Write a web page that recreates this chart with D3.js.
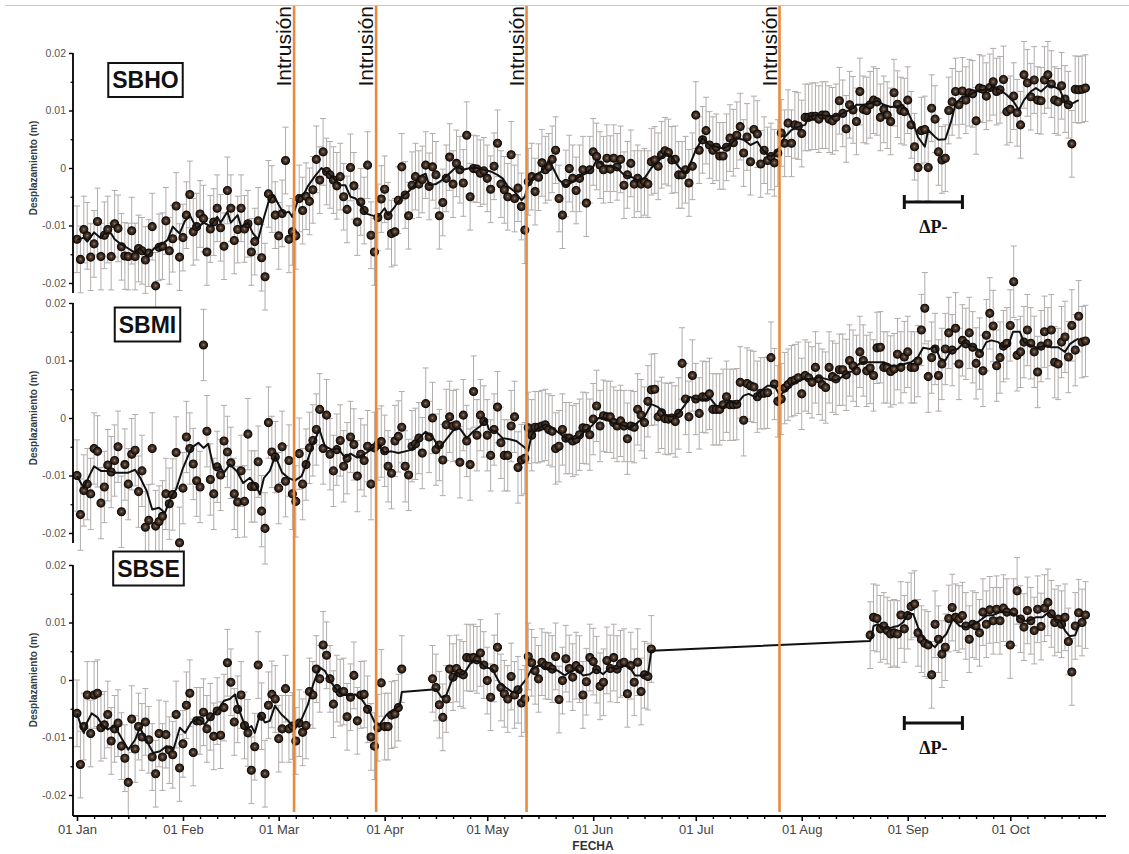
<!DOCTYPE html>
<html>
<head>
<meta charset="utf-8">
<script src="https://cdn.jsdelivr.net/npm/d3@7"></script>
<style>
body { margin:0; background:#fff; }
svg { display:block; font-family:"Liberation Sans", Arial, sans-serif; }
</style>
</head>
<body>
<svg class="myChart" width="1129" height="854"></svg>
<script>
// daily displacement values (mm)
const sbhoDots = [
 -12.4,-15.9,-10.7,-11.8,-15.5,-13.2,-9.3,-15.4,-11.7,-10.7,
 -15.4,-9.7,-10.5,-13.7,-15.3,-15.4,-10.9,-15.4,-14.0,-14.4,
 -16.0,-14.8,-10.2,-20.5,-13.8,-13.6,-9.2,-14.4,-12.3,-6.6,
 -15.5,-12.1,-8.2,-4.6,-11.1,-10.2,-8.0,-8.8,-14.6,-10.6,
 -9.4,-7.0,-10.4,-13.6,-3.9,-7.0,-12.6,-10.7,-7.0,-10.6,
 -9.7,-14.6,-12.8,-9.2,-15.6,-18.9,-4.5,-5.4,-8.2,-11.8,
 -7.9,1.3,-12.4,-11.1,-11.8,-5.3,-7.4,-4.9,-5.8,-3.8,
 1.5,-2.1,2.8,-0.6,-1.2,-2.1,-3.1,-1.5,-5.0,-7.2,
 0.1,-3.1,-9.4,-5.9,-7.4,0.5,-11.7,-14.6,-8.6,-5.4,
 -3.7,-8.3,-11.4,-11.1,-5.6,0.2,-4.7,-8.3,-3.0,-1.5,
 -2.8,-2.0,0.5,-3.2,0.2,-1.2,-8.3,-6.0,-1.8,1.9,
 -2.8,0.8,-0.3,-2.6,5.7,-5.0,-0.1,-0.2,-0.9,-0.5,
 -1.8,-3.7,0.3,4.3,-2.8,-3.8,-5.0,2.3,-5.3,-3.5,
 -6.7,-10.8,-2.4,-1.5,-4.1,-1.6,0.9,-0.3,0.2,1.5,
 3.1,-5.3,-8.2,-2.7,-0.1,-1.8,-3.9,-1.8,-0.3,-6.1,
 -0.3,2.8,2.0,0.5,-0.3,1.7,-0.2,1.7,0.2,1.5,
 -3.0,-1.2,0.8,-2.8,-1.8,-2.8,-2.4,-2.8,1.1,1.4,
 0.3,2.3,3.0,2.7,1.4,1.5,-1.2,-1.2,-0.3,-2.6,
 0.3,9.2,3.1,4.9,6.5,4.0,3.1,3.6,2.1,2.1,
 3.6,5.2,4.4,5.7,7.2,2.6,5.4,1.1,6.7,5.9,
 0.7,3.1,1.3,2.0,0.9,2.6,6.1,4.3,7.8,4.3,
 7.5,7.3,6.0,8.8,8.8,9.0,9.0,8.5,9.2,9.2,
 8.5,8.2,8.8,11.7,9.5,6.8,11.0,10.1,8.1,13.3,
 10.2,10.0,11.0,11.8,11.5,8.8,10.2,9.2,8.1,13.1,
 11.1,10.0,9.8,11.8,7.5,3.7,0.1,6.5,6.7,0.1,
 10.4,8.5,2.8,1.4,1.7,10.0,11.5,13.3,11.0,13.4,
 11.8,13.1,12.9,8.2,13.9,13.7,12.5,14.0,15.0,13.3,
 13.6,15.4,9.8,10.2,12.5,9.6,7.5,16.2,14.8,12.4,
 15.3,11.8,11.7,15.3,16.2,14.6,11.8,11.5,14.3,12.0,
 11.0,4.2,13.7,13.6,13.7,13.9];

const sbmiDots = [
 -10.0,-16.8,-12.6,-11.5,-13.2,-5.3,-5.8,-14.8,-12.0,-8.2,
 -9.4,-7.4,-5.0,-16.3,-8.1,-11.5,-6.3,-5.6,-12.8,-9.2,
 -19.0,-17.8,-5.3,-18.8,-18.0,-17.1,-13.2,-14.9,-13.3,-6.0,
 -21.7,-12.2,-3.3,-5.3,-8.0,-10.9,-12.0,12.7,-2.3,-10.7,
 -13.2,-8.5,-9.9,-4.0,-5.9,-7.8,-13.2,-14.6,-9.2,-14.5,
 -2.8,-11.9,-11.9,-7.6,-16.2,-19.2,-0.8,-5.9,-6.8,-12.2,
 -5.0,-11.0,-7.4,-13.2,-14.5,-6.2,-11.5,-8.1,-5.2,-3.9,
 -2.0,1.5,-5.3,0.5,-6.3,-9.2,-5.5,-3.9,-8.4,-7.0,
 -3.3,-4.6,-10.1,-6.3,-7.4,-4.9,-11.5,-5.2,-4.6,-4.1,
 -5.7,-8.4,-9.6,-4.0,-3.2,-1.6,-8.4,-9.9,-4.9,-4.5,
 -3.5,-6.1,2.5,-3.3,0.0,-5.5,-4.7,-7.3,-1.2,0.2,
 -1.4,-1.2,-7.7,0.5,-4.0,-8.1,4.6,-3.0,0.5,-0.6,
 -3.0,-6.5,-2.0,1.9,-4.3,-6.5,-6.5,-1.4,0.2,-8.6,
 -7.3,-7.0,-1.7,-3.0,-1.6,-1.6,-1.4,-1.2,-2.0,-2.3,
 -5.3,-4.9,-2.0,-3.5,-3.5,-4.0,-3.7,-2.9,-1.7,-1.8,
 -2.9,-0.2,2.1,-1.4,0.4,0.2,0.2,-0.8,-1.4,-0.5,
 -1.4,-3.6,-1.4,-1.6,1.5,0.5,-0.8,2.9,4.9,5.0,
 0.2,0.9,-0.1,-0.2,0.0,-0.6,0.8,9.5,3.3,0.2,
 7.4,3.3,0.8,3.7,3.6,4.2,1.5,1.5,1.5,2.3,
 3.7,2.3,2.3,2.4,6.2,-0.4,6.0,5.6,5.4,3.7,
 4.3,4.3,4.4,10.5,5.9,2.9,3.3,5.2,5.8,6.4,
 6.6,7.0,4.2,7.4,7.0,6.2,8.8,6.8,5.8,5.3,
 8.8,7.2,6.8,8.4,8.4,7.5,10.0,9.1,8.2,11.5,
 10.0,8.2,8.7,7.4,12.2,12.3,8.8,8.8,8.1,8.5,
 11.1,8.8,10.6,11.5,8.8,8.8,9.9,15.3,19.1,7.2,
 10.5,12.0,7.4,9.4,12.0,14.8,11.8,15.6,9.4,13.5,
 12.9,14.8,12.3,9.5,11.2,8.2,14.4,18.2,16.0,9.1,
 10.5,12.5,13.0,16.1,23.7,10.9,11.5,13.2,15.3,13.0,
 11.5,8.0,12.5,15.0,13.0,15.3,9.7,9.4,13.2,14.1,
 10.6,16.1,11.8,17.7,13.2,13.4];

// SBSE has two gaps: three runs of daily values
const sbseDots1 = [ // from 01 Jan
 -5.8,-14.7,-8.1,-2.6,-9.3,-2.6,-2.3,-8.3,-7.8,-6.0,
 -10.6,-8.5,-7.5,-11.5,-13.6,-17.8,-6.8,-12.0,-8.1,-9.9,
 -7.3,-10.4,-13.4,-16.3,-9.3,-13.4,-9.5,-12.2,-13.0,-6.0,
 -15.3,-11.1,-4.4,-2.3,-12.6,-7.1,-7.1,-5.6,-8.5,-6.4,
 -9.8,-5.4,-9.6,-4.8,3.0,-0.4,-7.3,-5.1,-2.6,-7.9,
 -9.2,-15.7,-11.6,2.6,-6.3,-16.3,-4.4,-2.5,-3.3,-10.2,
 -8.5,-1.5,-8.5,-8.0,-10.6,-7.5,-9.1,-7.9,-2.0,-2.6,
 1.9,0.2,6.1,4.3,0.2,-4.2,-1.5,-2.2,-2.0,-6.4,
 -3.0,0.8,-7.1,-2.6,-2.5,-5.1,-9.9,-11.5,-8.3,-0.5,
 -8.1,-8.1,-6.1,-5.9,-4.8,1.9];
const sbseDots2 = [ // from 15 Apr
 0.2,-1.3,-4.3,-6.5,-3.3,1.9,0.5,2.0,1.2,0.9,
 3.9,3.8,3.9,3.5,4.7,2.6,-0.1,-3.0,2.0,5.7,
 -1.3,-2.4,-3.3,0.6,-2.6,-1.7,-4.0,-3.3,4.1,3.0,
 1.6,0.2,3.1,2.5,2.4,1.9,4.1,-3.4,-0.1,3.7,
 2.0,0.5,2.5,1.9,-2.6,-0.3,3.9,3.2,1.8,-1.1,
 -0.4,3.4,2.0,3.9,1.9,2.8,3.1,-2.4,2.5,-0.4,
 3.1,-2.0,0.9,0.6,5.4];
const sbseDots3 = [ // from 21 Aug
 7.8,10.9,10.7,8.9,9.4,8.6,8.0,8.2,8.0,11.3,
 8.9,11.2,12.8,13.2,8.2,7.1,6.4,6.1,0.9,9.7,
 7.1,4.5,5.7,10.7,12.6,10.9,10.6,11.2,9.4,7.1,
 9.7,9.4,8.2,11.8,9.7,12.2,10.3,12.3,10.3,12.5,
 11.8,6.1,11.8,15.5,10.6,9.2,12.1,10.3,8.6,12.3,
 9.3,12.5,13.5,11.5,10.0,10.6,9.7,10.9,6.7,1.4,
 9.4,11.7,10.0,11.3];

// smoothed curve, [day since 01 Jan, mm]
const sbhoLine = [[0,-12.5],[2,-12.1],[3,-12.8],[5,-11.2],[7,-12.2],[8,-11.4],[10,-11.4],[11,-12.4],[12.5,-13.1],[15,-14.0],[16.5,-14.6],[18.5,-14.0],[20.5,-15.4],[22.5,-14.0],[24.5,-13.4],[26.5,-12.5],[28,-10.2],[30,-11.4],[31.5,-9.3],[33,-8.2],[35,-10.5],[37,-9.5],[39,-10.1],[41,-8.5],[42,-9.5],[44,-7.6],[45,-9.5],[47,-8.2],[48,-10.2],[50,-9.5],[51.5,-11.4],[53,-12.4],[54.5,-9.0],[56,-5.9],[57.5,-4.7],[59,-6.4],[60.5,-7.9],[62,-7.6],[63,-8.5],[65,-5.0],[66.5,-4.4],[67.5,-3.2],[69.5,-1.5],[71.5,0],[73.5,-0.9],[75,-1.8],[77,-3.0],[78.5,-3.0],[80,-5.0],[81.5,-5.3],[83,-6.6],[84.5,-7.9],[86,-8.2],[88,-8.5],[90,-7.0],[91,-8.2],[93,-6.7],[95,-5.0],[97,-4.1],[99,-2.8],[100,-1.5],[102,-1.0],[103,-3.0],[105,-2.8],[107,-2.0],[109,-0.9],[111,0.2],[113,-0.3],[115,0],[117,0],[119,-0.3],[121,-0.6],[123,-1.2],[124.5,-1.8],[126,-3.2],[128,-4.1],[130,-5.6],[131,-5.0],[132,-2.7],[134,-1.2],[136,-0.6],[137,0.2],[138,1.4],[139.5,-0.3],[141,-2.1],[143,-3.1],[145,-2.4],[147,-1.5],[149,-0.9],[151,0.2],[152,1.4],[154,0.5],[156,0.3],[158,0],[160,-1.2],[162,-1.5],[164,-2.1],[166,-1.8],[168,0],[170,1.1],[172,2.6],[174,2.0],[176,0.2],[178,-0.9],[179,0.2],[181,3.1],[183,5.2],[185,4.0],[187,3.7],[189,3.4],[191,4.0],[193,5.2],[195,4.9],[197,4.0],[199,4.6],[200,3.6],[202,2.3],[203,2.0],[205,3.1],[207,5.4],[209,6.6],[211,7.2],[213,7.5],[214,8.9],[216,9.2],[218,9.2],[221,8.9],[223,9.2],[225,9.8],[227,10.4],[228,11.0],[230,11.0],[232,11.2],[234,11.7],[236,11.0],[238,10.6],[240,10.7],[241.5,11.0],[243,9.8],[245,7.2],[246,5.4],[248,3.7],[249,6.6],[251,5.4],[252,4.9],[254,5.0],[255.7,8.1],[257,11.2],[259,12.4],[261,12.7],[263,13.3],[265,13.6],[267,13.7],[268,14.3],[270,13.6],[272,12.7],[274,11.5],[275.5,10.1],[277,11.8],[279,13.3],[280.5,13.9],[282,13.3],[284,14.4],[286,14.1],[287.5,13.6],[289,11.5],[290.5,11.0],[292,11.5],[293,11.8]];

const sbmiLine = [[0,-10.1],[2,-12.2],[3.8,-9.8],[5,-8.4],[7,-9.2],[9,-9.2],[11,-9.5],[13,-9.5],[15,-9.5],[17,-9.0],[18.5,-10.4],[20.4,-12.7],[22,-15.9],[24,-15.6],[25.7,-16.5],[27.7,-13.6],[29,-12.4],[31,-8.7],[33.5,-5.2],[35.5,-4.3],[37,-5.2],[38.4,-4.5],[40,-8.7],[41.8,-8.5],[43,-9.5],[44.7,-8.1],[46.7,-9.2],[48.6,-11.3],[50.6,-10.4],[52.5,-11.9],[53.5,-13.3],[54.7,-10.4],[56.4,-9.2],[58,-6.6],[60,-9.5],[61.8,-10.4],[63.7,-10.9],[65.7,-10.1],[67,-8.1],[69,-4.6],[70.9,-2.0],[72.5,-4.9],[74.5,-5.5],[76.4,-5.3],[78.4,-6.9],[80,-6.2],[82,-6.9],[84,-6.3],[86,-5.5],[88,-4.7],[90,-6.0],[92,-5.8],[94,-6.1],[96,-5.8],[98,-5.5],[100,-3.5],[102,-2.4],[104,-3.3],[106,-5.2],[108,-3.7],[110,-2.2],[112,-1.8],[114,-3.5],[116,-2.3],[118,-1.4],[119.5,-0.2],[120.5,-2.0],[122.5,-2.3],[124.5,-3.5],[126.5,-3.7],[128.5,-4.0],[130.5,-4.9],[132,-5.7],[133,-2.9],[135,-1.7],[137,-1.1],[139,-1.7],[141,-2.6],[143,-3.5],[145,-3.7],[146.5,-3.5],[148.5,-2.3],[150.5,-1.4],[152.5,0],[154.5,-0.1],[156.5,-0.8],[158.5,-1.1],[160.2,-1.4],[162,-1.7],[164,-0.8],[166,0.2],[168,2.4],[170,1.9],[172,0.6],[174,0.2],[176,0.8],[178,2.4],[179,3.7],[181,3.3],[183,3.0],[185,3.6],[187,2.1],[189,1.8],[191,3.0],[193,2.4],[195,3.9],[196.5,4.2],[198.5,3.6],[200,4.7],[202,5.6],[204,5.6],[205.6,3.9],[207,4.7],[209,5.9],[211,6.5],[213,6.8],[215,6.8],[217,7.1],[219,6.8],[221,6.5],[223,6.8],[225,7.7],[227,8.2],[228.5,9.3],[230,9.7],[232,9.7],[234,9.7],[236,9.7],[238,9.1],[240,9.1],[242,9.4],[244,9.7],[246,10.6],[247.5,12.2],[249.5,12.0],[251,12.5],[252.5,10.3],[254,10.0],[255.7,11.8],[257.6,12.0],[259.6,13.2],[261,12.6],[262.6,12.3],[264.5,11.5],[266,13.2],[267.5,13.5],[269.5,13.2],[270.9,12.3],[272.4,12.6],[273.8,15.0],[275.8,15.0],[277,13.2],[279,12.6],[281,12.2],[283,12.6],[285,12.3],[287,12.3],[289,11.5],[290.5,12.9],[292,13.5],[293,13.8]];

const sbseLine = [[0,-5.8],[1,-7.7],[2,-9.2],[3,-7.3],[4.3,-5.8],[6,-6.5],[7.2,-7.7],[9,-8.6],[11,-8.0],[13,-10.1],[15,-12.1],[17,-10.4],[18.4,-8.3],[20.4,-10.6],[22.3,-12.7],[24.3,-12.4],[26.2,-11.5],[28.2,-12.1],[30.1,-8.3],[31.6,-9.2],[33.5,-7.3],[35.5,-6.8],[37.4,-7.7],[39.4,-6.3],[41.3,-5.1],[43,-3.6],[44.7,-3.3],[46.2,-2.5],[47.7,-5.7],[49.6,-8.6],[51,-8.0],[52,-9.2],[53.5,-6.0],[55,-7.4],[56.4,-7.1],[57.9,-4.5],[59.8,-6.0],[61.8,-7.1],[63.7,-8.5],[65.7,-6.8],[67.6,-4.2],[69.1,-0.7],[71,2.2],[72.5,1.6],[74,-0.1],[75.4,-1.3],[77.4,-2.5],[79.3,-2.7],[81.3,-2.5],[83.2,-3.3],[85.2,-5.0],[87.1,-7.4],[88.6,-7.7],[90.6,-6.0],[92.5,-5.2],[94.4,-4.5],[95,-2.1],[105,-1.6],[106.6,-3.0],[108,-2.7],[109.6,-0.1],[111,1.3],[113,0.9],[115,2.8],[116.6,3.4],[118,3.1],[119.5,2.2],[121.5,1.9],[123.5,-0.4],[125.4,-1.3],[127.3,-2.1],[128.8,-2.0],[130,-0.9],[131.5,0.2],[133,1.9],[134.9,2.5],[136.8,2.2],[138.8,1.9],[140.7,1.6],[142.7,0.8],[144,1.3],[146.1,1.9],[148,0.8],[150,1.0],[151.9,1.9],[153.9,1.0],[155.9,2.2],[157.8,1.9],[159.8,2.5],[161.7,2.2],[163.2,0.8],[165.1,0.8],[167,0.9],[168,5.1],[232,6.8],[232.5,7.6],[233,9.4],[234.3,9.7],[235.7,9.2],[237.2,8.9],[238.7,9.2],[240.2,9.4],[241.6,10.0],[243.1,11.5],[244.6,11.5],[246,9.2],[247.5,7.4],[249,6.6],[251,5.7],[252.4,6.8],[254.3,8.0],[256.2,10.6],[258.2,9.4],[260,9.2],[262,9.6],[264,10.3],[266,11.2],[268,11.3],[270,11.8],[272,11.8],[274,11.5],[275.5,10.9],[277,10.3],[278.5,10.3],[280.4,10.9],[282.4,10.9],[284.2,11.8],[286.2,10.6],[287.6,10.3],[289,8.6],[290.4,7.6],[292,7.8],[293,9.4]];

const stationNames = ["SBHO", "SBMI", "SBSE"];
const errHalf = [5.8, 6.2, 5.8];            // mm, half length of error bars
const intrusionDates = ["2013-03-05T12:00", "2013-03-29T12:00", "2013-05-12T12:00", "2013-07-25T12:00"];
const deltaP = ["2013-08-31", "2013-09-17"];
const yTicks = [0.02, 0.01, 0, -0.01, -0.02];
const yTickLabels = ["0.02", "0.01", "0", "-0.01", "-0.02"];
const yMinor = [0.015, 0.005, -0.005, -0.015];
const xTickLabels = ["01 Jan","01 Feb","01 Mar","01 Apr","01 May","01 Jun","01 Jul","01 Aug","01 Sep","01 Oct"];

document.addEventListener("DOMContentLoaded", function() {

const svg = d3.select("svg.myChart");
const t0 = Date.UTC(2013, 0, 1);
const dayToDate = d => new Date(t0 + d * 864e5);
const parseT = d3.utcParse("%Y-%m-%dT%H:%M");
const parseD = d3.utcParse("%Y-%m-%d");

const panelTop = [53, 303, 565];
const axisEnd = [293, 543, 816];
const boxCenter = [[145.5, 80], [147.5, 324.5], [148.5, 568.5]];
const dpY = [202, null, 723];
const axisX = 73, xAxisY = 816;

const x = d3.scaleUtc()
  .domain([dayToDate(0), parseD("2013-10-29")])
  .range([77, 1106]);

const defs = svg.append("defs");
const grad = defs.append("radialGradient").attr("id", "dotFill")
  .attr("cx", "50%").attr("cy", "48%").attr("r", "55%");
grad.append("stop").attr("offset", "0%").attr("stop-color", "#a08470");
grad.append("stop").attr("offset", "30%").attr("stop-color", "#564030");
grad.append("stop").attr("offset", "100%").attr("stop-color", "#140e0a");

svg.append("line")
  .attr("x1", 5).attr("x2", 1129).attr("y1", 5.5).attr("y2", 5.5)
  .attr("stroke", "#c4c4c4").attr("stroke-width", 1);

const stations = [
  {segs: [[0, sbhoDots]], line: sbhoLine},
  {segs: [[0, sbmiDots]], line: sbmiLine},
  {segs: [[0, sbseDots1], [104, sbseDots2], [232, sbseDots3]], line: sbseLine}
];

stations.forEach((st, i) => {
  const y = d3.scaleLinear().domain([-0.02, 0.02]).range([panelTop[i] + 230, panelTop[i]]);
  const e = errHalf[i] / 1000;

  const pts = [];
  st.segs.forEach(([start, vals]) => vals.forEach((v, k) => pts.push({date: dayToDate(start + k), v: v / 1000})));

  const g = svg.append("g");

  // error bars
  const eb = g.append("g").attr("stroke", "#b0acaa").attr("stroke-width", 1).attr("fill", "none");
  eb.selectAll("path").data(pts).enter().append("path")
    .attr("d", d => {
      const cx = x(d.date), y1 = y(d.v + e), y2 = y(d.v - e);
      return `M${cx},${y1}V${y2}M${cx - 3},${y1}H${cx + 3}M${cx - 3},${y2}H${cx + 3}`;
    });

  // points
  g.append("g").selectAll("circle").data(pts).enter().append("circle")
    .attr("cx", d => x(d.date))
    .attr("cy", d => y(d.v))
    .attr("r", 4)
    .attr("fill", "url(#dotFill)")
    .attr("stroke", "#110b08")
    .attr("stroke-width", 1.1);

  // smoothed curve
  const line = d3.line().x(d => x(dayToDate(d[0]))).y(d => y(d[1] / 1000));
  g.append("path").datum(st.line)
    .attr("d", line)
    .attr("fill", "none")
    .attr("stroke", "#111")
    .attr("stroke-width", 2)
    .attr("stroke-linejoin", "round");

  // y axis
  const ga = svg.append("g").attr("transform", `translate(${axisX},0)`)
    .call(d3.axisLeft(y).tickValues(yTicks).tickFormat((d, j) => yTickLabels[j]).tickSize(4).tickPadding(3).tickSizeOuter(0));
  ga.select(".domain").remove();
  ga.selectAll(".tick line").attr("stroke", "#000").attr("stroke-width", 1.4);
  ga.selectAll(".tick text").attr("font-size", 10.5).attr("fill", "#555")
    .attr("font-family", "Liberation Sans, Arial, sans-serif");
  const gm = svg.append("g").attr("transform", `translate(${axisX},0)`)
    .call(d3.axisLeft(y).tickValues(yMinor).tickFormat("").tickSize(2.5).tickSizeOuter(0));
  gm.select(".domain").remove();
  gm.selectAll(".tick line").attr("stroke", "#000").attr("stroke-width", 1.2);
  svg.append("line")
    .attr("x1", axisX).attr("x2", axisX).attr("y1", panelTop[i]).attr("y2", axisEnd[i])
    .attr("stroke", "#000").attr("stroke-width", 1.8);

  svg.append("text")
    .attr("transform", `translate(37,${y(0)}) rotate(-90)`)
    .attr("text-anchor", "middle")
    .attr("font-size", 10)
    .attr("font-weight", "bold")
    .attr("fill", "#3a3a3a")
    .text("Desplazamiento (m)");

  // station label box
  const box = svg.append("rect");
  const lab = svg.append("text")
    .attr("x", boxCenter[i][0]).attr("y", boxCenter[i][1])
    .attr("text-anchor", "middle").attr("dominant-baseline", "central")
    .attr("font-size", 23).attr("font-weight", "bold").attr("fill", "#111")
    .text(stationNames[i]);
  const bb = lab.node().getBBox();
  box.attr("x", bb.x - 4).attr("y", boxCenter[i][1] - 17)
    .attr("width", bb.width + 8).attr("height", 34)
    .attr("fill", "#fff").attr("stroke", "#111").attr("stroke-width", 2);

  // delta P bracket
  if (dpY[i] !== null) {
    const xa = x(parseD(deltaP[0])), xb = x(parseD(deltaP[1]));
    svg.append("path")
      .attr("d", `M${xa},${dpY[i] - 7}V${dpY[i] + 7}M${xa},${dpY[i]}H${xb}M${xb},${dpY[i] - 7}V${dpY[i] + 7}`)
      .attr("stroke", "#111").attr("stroke-width", 3).attr("fill", "none");
    svg.append("text")
      .attr("x", (xa + xb) / 2).attr("y", dpY[i] + 31)
      .attr("text-anchor", "middle")
      .attr("font-family", "Liberation Serif, Times New Roman, serif")
      .attr("font-weight", "bold").attr("font-size", 18).attr("fill", "#111")
      .text("ΔP-");
  }
});

// x axis
const gx = svg.append("g").attr("transform", `translate(0,${xAxisY})`)
  .call(d3.axisBottom(x).tickValues(d3.utcMonth.range(dayToDate(0), parseD("2013-10-02")))
    .tickFormat((d, j) => xTickLabels[j]).tickSize(5).tickPadding(4).tickSizeOuter(0));
gx.select(".domain").remove();
gx.selectAll(".tick line").attr("stroke", "#000").attr("stroke-width", 1.6);
gx.selectAll(".tick text").attr("font-size", 13).attr("fill", "#444")
  .attr("font-family", "Liberation Sans, Arial, sans-serif");
const minorDays = d3.utcDay.range(dayToDate(0), parseD("2013-10-29"))
  .filter(d => [6, 11, 16, 21, 26].includes(d.getUTCDate()));
const gxm = svg.append("g").attr("transform", `translate(0,${xAxisY})`)
  .call(d3.axisBottom(x).tickValues(minorDays).tickFormat("").tickSize(3).tickSizeOuter(0));
gxm.select(".domain").remove();
gxm.selectAll(".tick line").attr("stroke", "#000").attr("stroke-width", 1.4);
svg.append("line")
  .attr("x1", axisX).attr("x2", x.range()[1]).attr("y1", xAxisY).attr("y2", xAxisY)
  .attr("stroke", "#000").attr("stroke-width", 2);
svg.append("text")
  .attr("x", 593).attr("y", 850)
  .attr("text-anchor", "middle")
  .attr("font-size", 12).attr("font-weight", "bold").attr("fill", "#333")
  .text("FECHA");

// intrusion markers
intrusionDates.forEach(s => {
  const xi = x(parseT(s));
  svg.append("line")
    .attr("x1", xi).attr("x2", xi).attr("y1", 6).attr("y2", 812)
    .attr("stroke", "#e98a3d").attr("stroke-width", 2.6);
  svg.append("text")
    .attr("transform", `translate(${xi - 3},6) rotate(-90)`)
    .attr("text-anchor", "end")
    .attr("font-size", 21)
    .attr("fill", "#111")
    .text("Intrusión");
});

});
</script>
</body>
</html>
